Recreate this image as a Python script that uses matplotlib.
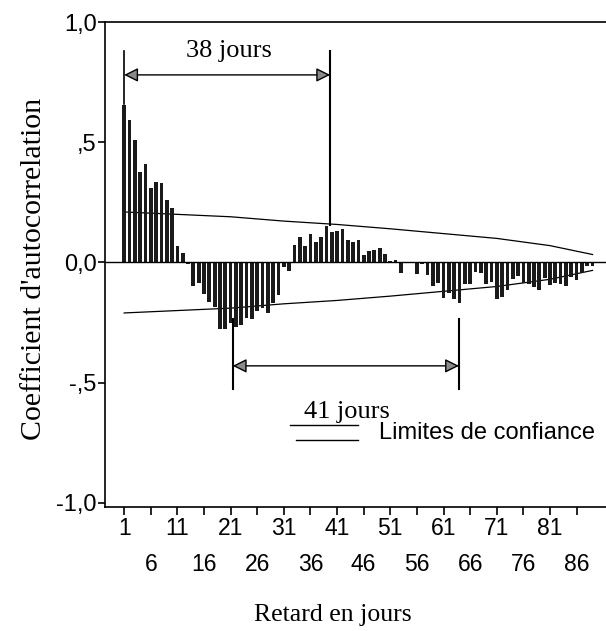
import numpy as np
import matplotlib
matplotlib.use('Agg')
import matplotlib.pyplot as plt

# autocorrelation per lag
lags = np.arange(1, 90)
acf = [0.653, 0.594, 0.51, 0.378, 0.41, 0.308, 0.336, 0.33, 0.26, 0.225,
       0.07, 0.04, -0.005, -0.096, -0.086, -0.13, -0.165, -0.186, -0.276, -0.276,
       -0.25, -0.27, -0.26, -0.23, -0.235, -0.2, -0.19, -0.21, -0.17, -0.135,
       -0.017, -0.037, 0.074, 0.104, 0.07, 0.118, 0.083, 0.104, 0.153, 0.125,
       0.132, 0.139, 0.093, 0.086, 0.094, 0.032, 0.046, 0.052, 0.06, 0.037,
       0.004, 0.011, -0.042, 0.0, 0.0, -0.047, -0.005, -0.054, -0.097, -0.084,
       -0.146, -0.126, -0.154, -0.17, -0.089, -0.088, -0.04, -0.043, -0.09, -0.083,
       -0.15, -0.144, -0.114, -0.069, -0.056, -0.086, -0.09, -0.104, -0.115, -0.063,
       -0.094, -0.085, -0.09, -0.097, -0.0625, -0.075, -0.042, -0.014, -0.014]

# confidence limits (symmetric)
conf_lags = [1, 11, 21, 31, 41, 51, 61, 71, 81, 89]
conf_vals = [0.21, 0.20, 0.19, 0.172, 0.158, 0.14, 0.12, 0.10, 0.07, 0.033]

ytick_vals = [1.0, 0.5, 0.0, -0.5, -1.0]
ytick_labels = ['1,0', ',5', '0,0', '-,5', '-1,0']
xtick_row1 = [1, 11, 21, 31, 41, 51, 61, 71, 81]
xtick_row2 = [6, 16, 26, 36, 46, 56, 66, 76, 86]

serif = 'Liberation Serif'
sans = 'Liberation Sans'

fig = plt.figure(figsize=(6.06, 6.31), dpi=100)
ax = fig.add_axes([105/606, 1-507/631, 503/606, 485/631])

ax.plot(conf_lags, conf_vals, color='black', lw=0.9, zorder=1)
ax.plot(conf_lags, [-v for v in conf_vals], color='black', lw=0.9, zorder=1)
ax.bar(lags, acf, width=0.7, color='#1a1a1a', zorder=2)
ax.axhline(0, color='black', lw=1.0, zorder=3)

ax.set_xlim(-2.6, 91.9)
ax.set_ylim(-1.017, 1.0)
ax.spines['right'].set_visible(False)

ax.set_yticks(ytick_vals)
ax.set_yticklabels(ytick_labels, fontfamily=sans, fontsize=17)
ax.tick_params(axis='y', direction='out', length=5, width=1.2, pad=1)

ax.set_xticks(xtick_row1)
ax.set_xticklabels([str(v) for v in xtick_row1], fontfamily=sans, fontsize=16.5)
ax.set_xticks(xtick_row2, minor=True)
ax.set_xticklabels([str(v) for v in xtick_row2], minor=True, fontfamily=sans, fontsize=16.5)
ax.tick_params(axis='x', which='major', direction='out', length=6, width=1.2, pad=1)
ax.tick_params(axis='x', which='minor', direction='out', length=6, width=1.2, pad=27)

for s in ax.spines.values():
    s.set_linewidth(1.2)

ax.set_ylabel("Coefficient d'autocorrelation", fontfamily=serif, fontsize=21.5)
ax.yaxis.set_label_coords(-0.115, 0.49)
ax.set_xlabel('Retard en jours', fontfamily=serif, fontsize=18.5)
ax.xaxis.set_label_coords(0.453, -0.20)

arrow_props = dict(arrowstyle='<|-|>', mutation_scale=21, fc='#8a8a8a',
                   ec='black', lw=1.0, shrinkA=0, shrinkB=0)

# 38 jours
ax.plot([1, 1], [0.66, 0.88], color='black', lw=1.2)
ax.plot([39.7, 39.7], [0.155, 0.88], color='black', lw=1.5)
ax.annotate('', xy=(1, 0.78), xytext=(39.7, 0.78), arrowprops=arrow_props)
ax.text(20.7, 0.88, '38 jours', fontfamily=serif, fontsize=19, ha='center', va='center')

# 41 jours
ax.plot([21.4, 21.4], [-0.235, -0.525], color='black', lw=1.5)
ax.plot([63.9, 63.9], [-0.235, -0.525], color='black', lw=1.5)
ax.annotate('', xy=(21.4, -0.43), xytext=(63.9, -0.43), arrowprops=arrow_props)
ax.text(42.8, -0.62, '41 jours', fontfamily=serif, fontsize=19, ha='center', va='center')

# legend
ax.plot([32.2, 45.0], [-0.678, -0.678], color='black', lw=1.0)
ax.plot([33.3, 45.0], [-0.74, -0.74], color='black', lw=1.0)
ax.text(48.9, -0.71, 'Limites de confiance', fontfamily=sans, fontsize=17, va='center')

fig.savefig('out.png', dpi=100)
